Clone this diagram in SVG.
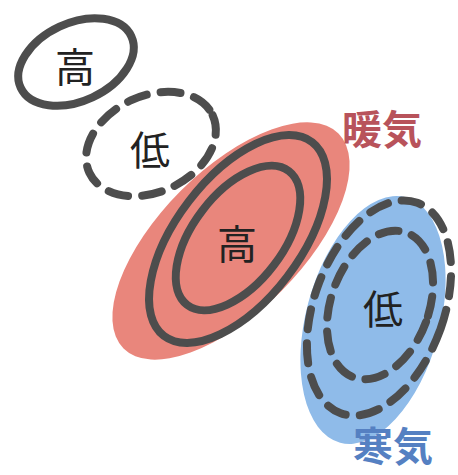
<svg xmlns="http://www.w3.org/2000/svg" width="458" height="475" viewBox="0 0 458 475">
<style>
.ring{fill:none;stroke:#4d4d4d;stroke-width:8}
.dash{fill:none;stroke:#4d4d4d;stroke-width:8;stroke-dasharray:20 14;stroke-linecap:round}
.t{font-family:"Noto Sans CJK JP","Noto Sans CJK SC",sans-serif;font-size:40px;fill:#222;text-anchor:middle;dominant-baseline:central}
.lab{font-family:"Noto Sans CJK JP","Noto Sans CJK SC",sans-serif;font-size:40px;font-weight:bold;text-anchor:middle;dominant-baseline:central}
</style>
<rect width="458" height="475" fill="#fff"/>
<g id="warm">
<ellipse cx="231" cy="241" rx="152" ry="71" transform="rotate(-45 231 241)" fill="#e9867c"/>
<ellipse class="ring" cx="238" cy="239" rx="122" ry="62" transform="rotate(-52.6 238 239)"/>
<ellipse class="ring" cx="238" cy="238" rx="84" ry="45" transform="rotate(-52.7 238 238)"/>
<text class="t" x="237" y="242">高</text>
</g>
<g id="cold">
<ellipse cx="373" cy="320" rx="67" ry="127" transform="rotate(15 373 320)" fill="#8fbbe9"/>
<ellipse class="dash" cx="379" cy="308" rx="65" ry="112" transform="rotate(20 379 308)"/>
<ellipse class="dash" cx="380" cy="305" rx="49" ry="77" transform="rotate(20 380 305)"/>
<text class="t" x="383" y="307">低</text>
</g>
<g id="high-small">
<ellipse class="ring" cx="76" cy="62" rx="61" ry="39" transform="rotate(-25 76 62)"/>
<text class="t" x="75" y="65">高</text>
</g>
<g id="low-small">
<ellipse class="dash" cx="151" cy="144" rx="68" ry="48" transform="rotate(-25 151 144)"/>
<text class="t" x="150" y="148">低</text>
</g>
<g id="labels">
<text class="lab" x="382" y="127" fill="#b8535b">暖気</text>
<text class="lab" x="393" y="444" fill="#5580c2" font-size="38">寒気</text>
</g>
</svg>
